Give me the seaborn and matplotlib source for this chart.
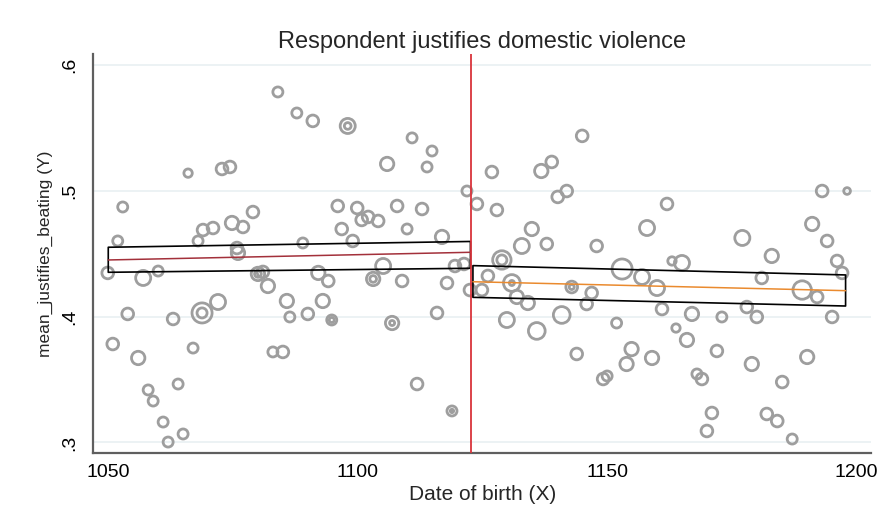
import numpy as np
import pandas as pd
import matplotlib
matplotlib.use("Agg")
import matplotlib.pyplot as plt
import seaborn as sns

# ---- data ----
dob = [1084.0, 1066.0, 1072.8, 1074.4, 1052.9, 1051.9, 1069.0, 1071.0, 1074.8, 1077.0,
       1079.0, 1068.0, 1075.8, 1087.8, 1091.0, 1098.0, 1098.0, 1110.9, 1114.9, 1105.9,
       1113.9, 1121.9, 1096.0, 1099.9, 1107.9, 1112.9, 1100.8, 1102.1, 1104.1, 1096.8,
       1109.9, 1099.0, 1116.9, 1089.0, 1076.0, 1049.9, 1057.0, 1060.0, 1080.0, 1080.0,
       1081.0, 1082.0, 1085.8, 1053.9, 1063.0, 1068.8, 1068.8, 1072.0, 1086.4, 1050.9,
       1056.0, 1067.0, 1083.0, 1085.0, 1058.0, 1059.0, 1064.0, 1061.0, 1065.0, 1062.0,
       1105.1, 1092.1, 1094.1, 1103.1, 1103.1, 1108.9, 1117.9, 1119.5, 1121.3, 1122.5,
       1093.0, 1090.0, 1094.8, 1094.8, 1106.9, 1106.9, 1115.9, 1111.9, 1118.9, 1118.9,
       # right of cutoff
       1145.0, 1126.9, 1136.8, 1138.9, 1123.9, 1127.9, 1140.1, 1141.9, 1162.0, 1134.9,
       1158.0, 1132.9, 1137.9, 1147.9, 1128.9, 1128.9, 1163.0, 1165.0, 1153.0, 1157.0,
       1126.1, 1130.9, 1130.9, 1142.9, 1142.9, 1160.0, 1124.9, 1146.9, 1131.9, 1134.1,
       1145.9, 1140.9, 1129.9, 1135.9, 1151.9, 1161.0, 1163.8, 1143.9, 1154.9, 1153.9,
       1159.0, 1149.2, 1150.0, 1193.1, 1198.1, 1191.1, 1177.1, 1194.1, 1183.0, 1196.1,
       1197.1, 1181.0, 1189.1, 1192.1, 1167.0, 1173.0, 1178.0, 1180.0, 1195.1, 1166.0,
       1172.0, 1179.0, 1190.1, 1168.0, 1169.0, 1185.1, 1171.0, 1182.0, 1184.1, 1170.0,
       1187.1]
mean_y = [0.5785, 0.514, 0.5173, 0.5189, 0.4871, 0.4601, 0.4688, 0.4704, 0.4744, 0.4712,
          0.4831, 0.4601, 0.4545, 0.5618, 0.5555, 0.5515, 0.5515, 0.542, 0.5316, 0.5213,
          0.5189, 0.4998, 0.4879, 0.4863, 0.4879, 0.4855, 0.4768, 0.4792, 0.476, 0.4696,
          0.4696, 0.4601, 0.4633, 0.4585, 0.4506, 0.4347, 0.4307, 0.4362, 0.4339, 0.4339,
          0.4355, 0.4243, 0.4124, 0.4021, 0.3981, 0.4029, 0.4029, 0.4116, 0.3997, 0.3782,
          0.3671, 0.375, 0.3719, 0.3719, 0.3417, 0.3329, 0.3464, 0.3162, 0.3067, 0.3003,
          0.4402, 0.4347, 0.4283, 0.4299, 0.4299, 0.4283, 0.4267, 0.4402, 0.4418, 0.4211,
          0.4124, 0.4021, 0.3973, 0.3973, 0.3949, 0.3949, 0.4029, 0.3464, 0.325, 0.325,
          0.5436, 0.5149, 0.5157, 0.5229, 0.4895, 0.4847, 0.4951, 0.4998, 0.4895, 0.4696,
          0.4704, 0.4561, 0.4577, 0.4561, 0.445, 0.445, 0.4442, 0.4426, 0.4378, 0.4315,
          0.4323, 0.4267, 0.4267, 0.4235, 0.4235, 0.4227, 0.4211, 0.4188, 0.4156, 0.4108,
          0.41, 0.4013, 0.3973, 0.3886, 0.3949, 0.406, 0.3909, 0.3703, 0.3742, 0.3623,
          0.3671, 0.3504, 0.3528, 0.4998, 0.4998, 0.4736, 0.4625, 0.4601, 0.4482, 0.4442,
          0.4347, 0.4307, 0.4211, 0.4156, 0.4021, 0.3997, 0.4076, 0.3997, 0.3997, 0.3814,
          0.3727, 0.3623, 0.3679, 0.3544, 0.3504, 0.348, 0.3234, 0.3226, 0.317, 0.3091,
          0.3027]
n_obs = [36, 25, 49, 49, 36, 36, 49, 49, 64, 49,
         49, 36, 49, 36, 49, 81, 16, 36, 36, 64,
         36, 36, 49, 49, 49, 49, 49, 49, 49, 49,
         36, 49, 64, 36, 64, 49, 81, 36, 64, 16,
         49, 64, 64, 49, 49, 144, 36, 81, 36, 49,
         64, 36, 36, 49, 36, 36, 36, 36, 36, 36,
         81, 64, 49, 64, 16, 49, 49, 49, 49, 49,
         64, 49, 36, 9, 64, 9, 49, 49, 36, 4,
         49, 49, 64, 49, 49, 49, 49, 49, 49, 64,
         81, 81, 49, 49, 121, 36, 25, 81, 144, 81,
         49, 100, 9, 49, 9, 81, 49, 49, 64, 64,
         49, 100, 81, 100, 36, 49, 25, 49, 64, 64,
         64, 49, 36, 49, 16, 64, 81, 49, 64, 49,
         49, 49, 121, 49, 64, 36, 49, 49, 49, 64,
         49, 64, 64, 36, 49, 49, 49, 49, 49, 49,
         36]

cutoff = 1122.8
fit_left_x = [1050.0, 1122.6]
fit_left_y = [0.4450, 0.4511]
ci_left_lo = [0.4352, 0.4384]
ci_left_hi = [0.4551, 0.4597]
fit_right_x = [1123.1, 1197.8]
fit_right_y = [0.4277, 0.4206]
ci_right_lo = [0.4153, 0.4084]
ci_right_hi = [0.4405, 0.4331]

x_ticks = [1050, 1100, 1150, 1200]
y_ticks = [0.3, 0.4, 0.5, 0.6]
y_ticklabels = [".3", ".4", ".5", ".6"]

df = pd.DataFrame({"dob": dob, "mean_y": mean_y, "n": n_obs})

# ---- figure ----
sns.set_theme(style="white")
plt.rcParams["font.family"] = ["Liberation Sans", "DejaVu Sans"]

fig = plt.figure(figsize=(8.86, 5.18), dpi=100)
ax = fig.add_axes([0.1053, 0.1255, 0.8778, 0.7703])

sns.scatterplot(data=df, x="dob", y="mean_y", size="n", sizes=(0, 209),
                size_norm=(0, 144), legend=False, ax=ax, zorder=3)
pts = ax.collections[-1]
pts.set_facecolor("none")
pts.set_edgecolor("#9e9e9e")
pts.set_linewidth(2.0)

ax.fill_between(fit_left_x, ci_left_lo, ci_left_hi, facecolor="none",
                edgecolor="black", linewidth=1.2, zorder=4)
ax.fill_between(fit_right_x, ci_right_lo, ci_right_hi, facecolor="none",
                edgecolor="black", linewidth=1.2, zorder=4)
sns.lineplot(x=fit_left_x, y=fit_left_y, color="#a3303a", linewidth=1.1, ax=ax, zorder=5)
sns.lineplot(x=fit_right_x, y=fit_right_y, color="#ea8a2e", linewidth=1.1, ax=ax, zorder=5)
ax.axvline(cutoff, color="#d9343c", linewidth=1.3, zorder=6)

ax.set_xlim(1047.0, 1202.9)
ax.set_ylim(0.2916, 0.6087)
ax.set_xticks(x_ticks)
ax.set_xticklabels([str(t) for t in x_ticks])
ax.set_yticks(y_ticks)
ax.set_yticklabels(y_ticklabels, rotation=90, va="center")
ax.yaxis.grid(True, color="#e7eff1", linewidth=1.1)
ax.set_axisbelow(True)

for s in ["top", "right"]:
    ax.spines[s].set_visible(False)
for s in ["left", "bottom"]:
    ax.spines[s].set_color("#5f5f5f")
    ax.spines[s].set_linewidth(1.6)
ax.tick_params(axis="both", which="major", direction="out", length=5, width=1.1,
               color="#333333", labelsize=14, labelcolor="black")
ax.tick_params(axis="x", pad=3)
ax.tick_params(axis="y", pad=6)
ax.set_xlabel("Date of birth (X)", fontsize=15, labelpad=3)
ax.set_ylabel("mean_justifies_beating (Y)", fontsize=12.5)
ax.yaxis.label.set_verticalalignment("center")
ax.yaxis.set_label_coords(-0.0615, 0.5)
fig.text(0.544, 1 - 42 / 518, "Respondent justifies domestic violence",
         ha="center", va="center", fontsize=17)

fig.savefig("out.png", dpi=100)
